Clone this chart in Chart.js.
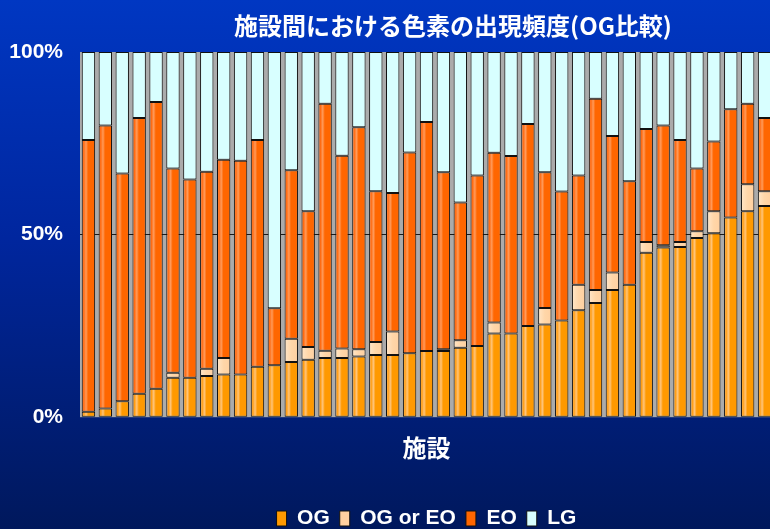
<!DOCTYPE html>
<html lang="ja">
<head>
<meta charset="utf-8">
<script src="https://cdn.jsdelivr.net/npm/chart.js@4.4.1/dist/chart.umd.min.js"></script>
<style>
html, body { margin:0; padding:0; overflow:hidden; }
#wrap { position:relative; width:770px; height:529px; overflow:hidden;
        background:linear-gradient(to bottom, #0037c2 0%, #00269e 45%, #00185c 100%); }
#title { position:absolute; left:136px; width:634px; top:7px; text-align:center; color:#fff;
         font:bold 24px "Noto Sans CJK JP", sans-serif; line-height:36px; }
canvas { position:absolute; left:0; top:0; }
</style>
</head>
<body>
<div id="wrap">
  <canvas id="c" width="773" height="539"></canvas>
  <div id="title">施設間における色素の出現頻度(OG比較)</div>
</div>
<script>
// 41 facilities, share (%) of each pigment class, bottom to top
const facilities = ['1','2','3','4','5','6','7','8','9','10','11','12','13','14','15','16','17','18','19','20',
    '21','22','23','24','25','26','27','28','29','30','31','32','33','34','35','36','37','38','39','40','41'];
const og     = [1.5, 2.4, 4.4, 6.4, 7.8, 10.8, 10.8, 11.3, 11.7, 11.7, 13.8, 14.2, 15.1, 15.7, 16.2, 16.2, 16.6, 17.0, 17.0, 17.5,
                18.1, 18.1, 19.0, 19.5, 22.9, 22.9, 25.0, 25.4, 26.5, 29.3, 31.3, 34.8, 36.3, 45.0, 46.5, 46.6, 49.1, 50.4, 54.7, 56.4, 57.8];
const ogOrEo = [0, 0, 0, 0, 0, 1.4, 0, 2.0, 4.5, 0, 0, 0, 6.4, 3.5, 2.0, 2.6, 2.0, 3.6, 6.5, 0,
                0, 0.5, 2.1, 0, 3.0, 0, 0, 4.5, 0, 7.0, 3.5, 4.8, 0, 3.0, 0.6, 1.4, 1.8, 6.0, 0, 7.4, 4.1];
const eo     = [74.4, 77.5, 62.3, 75.5, 78.5, 55.9, 54.3, 53.9, 54.3, 58.5, 62.1, 15.6, 46.1, 37.2, 67.6, 52.8, 60.8, 41.3, 37.9, 55.0,
                62.7, 48.5, 37.7, 46.7, 46.5, 48.6, 55.3, 37.2, 35.3, 29.9, 52.4, 37.4, 28.3, 30.9, 32.8, 27.9, 17.2, 19.1, 29.6, 22.0, 20.0];
const lg     = [24.1, 20.1, 33.3, 18.1, 13.7, 31.9, 34.9, 32.8, 29.5, 29.8, 24.1, 70.2, 32.4, 43.6, 14.2, 28.4, 20.6, 38.1, 38.6, 27.5,
                19.2, 32.9, 41.2, 33.8, 27.6, 28.5, 19.7, 32.9, 38.2, 33.8, 12.8, 23.0, 35.4, 21.1, 20.1, 24.1, 31.9, 24.5, 15.7, 14.2, 18.1];
const yTicks = [0, 50, 100];

const BAR_PCT = 0.79;
const sans = '"Liberation Sans", Arial, sans-serif';

// vertical stripe gradient across each bar, like the old Excel fill
function stripe(stops, flat) {
    return function (c) {
        const chart = c.chart, a = chart.chartArea;
        if (c.type !== 'data' || !a) return flat;
        const x = chart.scales.x.getPixelForValue(c.dataIndex);
        const w = (a.right - a.left) / facilities.length * BAR_PCT;
        const g = chart.ctx.createLinearGradient(x - w / 2, 0, x + w / 2, 0);
        stops.forEach(s => g.addColorStop(s[0], s[1]));
        return g;
    };
}

const plotBg = {
    id: 'plotBg',
    beforeDraw(chart) {
        const { ctx, chartArea: a } = chart;
        ctx.save();
        ctx.fillStyle = '#ababab';
        ctx.fillRect(a.left, a.top, a.right - a.left, a.bottom - a.top);
        ctx.restore();
    }
};

const common = { borderColor: '#111', borderWidth: 1, borderSkipped: false, barPercentage: BAR_PCT, categoryPercentage: 1 };

new Chart(document.getElementById('c'), {
    type: 'bar',
    data: {
        labels: facilities,
        datasets: [
            Object.assign({ label: 'OG', data: og,
                backgroundColor: stripe([[0, '#ffd09a'], [0.15, '#ff9c10'], [0.32, '#ffc47a'], [0.48, '#ff9900'], [1, '#ff9900']], '#ff9900') }, common),
            Object.assign({ label: 'OG or EO', data: ogOrEo,
                backgroundColor: stripe([[0, '#ffe6c8'], [0.5, '#ffd6a8'], [1, '#ffd0a0']], '#ffd6a8') }, common),
            Object.assign({ label: 'EO', data: eo,
                backgroundColor: stripe([[0, '#ffa070'], [0.15, '#ff6a10'], [0.32, '#ff9a5a'], [0.48, '#ff6600'], [1, '#ff6600']], '#ff6600') }, common),
            Object.assign({ label: 'LG', data: lg, backgroundColor: '#d8ffff' }, common)
        ]
    },
    options: {
        responsive: false,
        animation: false,
        layout: { padding: { top: 52, left: 0, right: 0, bottom: 0 } },
        plugins: {
            title: { display: false },
            tooltip: { enabled: false },
            legend: {
                position: 'bottom',
                fullSize: false,
                labels: { color: '#fff', boxWidth: 10, boxHeight: 15, padding: 10,
                          font: { family: sans, size: 21, weight: 'bold' } }
            }
        },
        scales: {
            x: {
                stacked: true,
                grid: { display: false, drawTicks: false },
                border: { display: false },
                ticks: { display: false },
                title: { display: true, text: '施設', color: '#fff',
                         font: { family: '"Noto Sans CJK JP", sans-serif', size: 24, weight: 'bold' },
                         padding: { top: 16, bottom: 36 } }
            },
            y: {
                stacked: true,
                min: 0, max: 100,
                afterFit: s => { s.width = 80; },
                afterBuildTicks: s => { s.ticks = yTicks.map(v => ({ value: v })); },
                border: { display: false },
                grid: { drawTicks: false, lineWidth: 1,
                        color: c => c.tick && c.tick.value === 50 ? '#1a1a1a' : 'rgba(0,0,0,0)' },
                ticks: { padding: 17, color: '#fff', font: { family: sans, size: 21, weight: 'bold' },
                         callback: v => v + '%' }
            }
        }
    },
    plugins: [plotBg]
});
</script>
</body>
</html>
